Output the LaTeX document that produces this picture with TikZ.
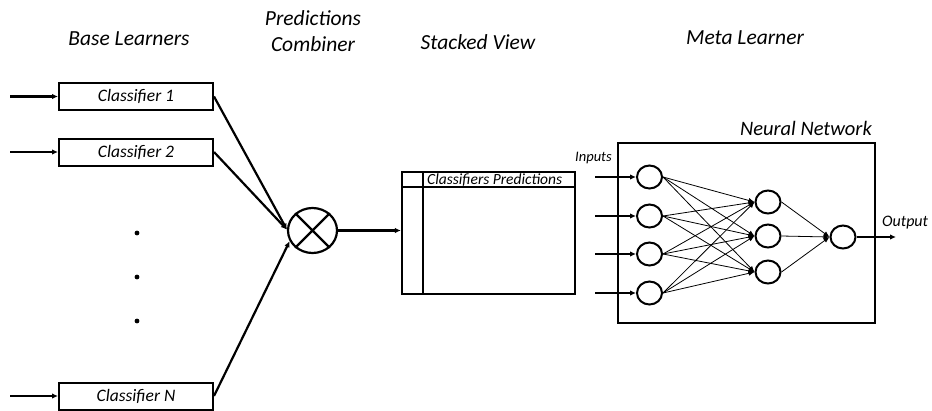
\documentclass[tikz,border=0pt]{standalone}
\usepackage{fontspec}
\setmainfont{Carlito}
\usetikzlibrary{arrows.meta,shapes.geometric}
\begin{document}
\begin{tikzpicture}[x=1pt,y=-1pt,
  clsbox/.style={draw,line width=2pt,minimum width=154pt,minimum height=27pt,inner sep=0pt,font=\fontsize{17.5}{20}\selectfont\itshape},
  title/.style={font=\fontsize{21.5}{26}\selectfont\itshape,align=center},
  neuron/.style={draw,ellipse,line width=2pt,minimum width=25pt,minimum height=23pt,inner sep=0pt},
  thinarrow/.style={-{Latex[length=6pt,width=5pt]},line width=0.8pt},
  thickarrow/.style={-{Latex[length=6pt,width=5.5pt]},line width=2.2pt},
  small/.style={font=\fontsize{14.5}{17}\selectfont\itshape}
]
\useasboundingbox (0,0) rectangle (932,410);
% titles
\node[title] (tBase) at (129,39) {Base Learners};
\node[title] (tComb) at (313,31) {Predictions\\Combiner};
\node[title] (tStack) at (478,42) {Stacked View};
\node[title] (tMeta) at (745,38) {Meta Learner};
% classifiers
\node[clsbox] (c1) at (136,96.5) {Classifier 1};
\node[clsbox] (c2) at (136,152) {Classifier 2};
\node[clsbox] (cN) at (136,396) {Classifier N};
\coordinate (i1) at (10,96.5);
\coordinate (i2) at (10,152);
\coordinate (iN) at (10,396);
\draw[thickarrow] (i1) -- (c1.west);
\draw[thickarrow] (i2) -- (c2.west);
\draw[thickarrow] (iN) -- (cN.west);
% dots
\fill (137,233) circle (2.4pt) (137,277) circle (2.4pt) (137,321) circle (2.4pt);
% combiner
\node[draw,ellipse,line width=2.2pt,minimum width=49pt,minimum height=45pt,inner sep=0pt] (comb) at (312.5,230.5) {};
\draw[line width=2.2pt] (comb.45) -- (comb.225) (comb.135) -- (comb.315);
\draw[thickarrow] (c1.east) -- (comb.178);
\draw[thickarrow] (c2.east) -- (comb.178);
\draw[thickarrow] (cN.east) -- (comb.205);
% stacked view
\node[draw,line width=2.2pt,minimum width=173pt,minimum height=122pt,inner sep=0pt] (stack) at (488.5,233) {};
\coordinate (hl) at (402,187);
\coordinate (hr) at (575,187);
\coordinate (vt) at (423,172);
\coordinate (vb) at (423,294);
\draw[line width=2.2pt] (hl) -- (hr) (vt) -- (vb);
\node[font=\fontsize{15.5}{17}\selectfont\itshape,anchor=west,inner sep=0pt] (cp) at (427,180) {Classifiers Predictions};
\draw[thickarrow] (comb.east) -- (comb.east -| stack.west);
% neural network box
\node[draw,line width=2.2pt,minimum width=257pt,minimum height=180pt,inner sep=0pt] (nn) at (746.5,233) {};
\node[font=\fontsize{20.5}{24}\selectfont\itshape,anchor=south east,inner sep=0pt] (nnl) at (872,136) {Neural Network};
% neurons
\node[neuron] (a1) at (649.5,177) {};
\node[neuron] (a2) at (649.5,216) {};
\node[neuron] (a3) at (649.5,254) {};
\node[neuron] (a4) at (649.5,293) {};
\node[neuron] (b1) at (768,202) {};
\node[neuron] (b2) at (768,236) {};
\node[neuron] (b3) at (768,272) {};
\node[neuron] (o) at (843,237) {};
\coordinate (x1) at (595,177);
\coordinate (x2) at (595,216);
\coordinate (x3) at (595,254);
\coordinate (x4) at (595,293);
\foreach \i in {1,2,3,4}{
  \draw[thickarrow] (x\i) -- (a\i.west);
  \foreach \j in {1,2,3}{
    \draw[thinarrow] (a\i.east) -- (b\j.west);
  }
}
\foreach \j in {1,2,3}{
  \draw[thinarrow] (b\j.east) -- (o.west);
}
\coordinate (out) at (896,237);
\draw[thickarrow] (o.east) -- (out);
\node[small,anchor=south west,inner sep=0pt] (inl) at (575,164) {Inputs};
\node[font=\fontsize{16}{18}\selectfont\itshape,anchor=south west,inner sep=0pt] (outl) at (882,229) {Output};
\end{tikzpicture}
\end{document}
